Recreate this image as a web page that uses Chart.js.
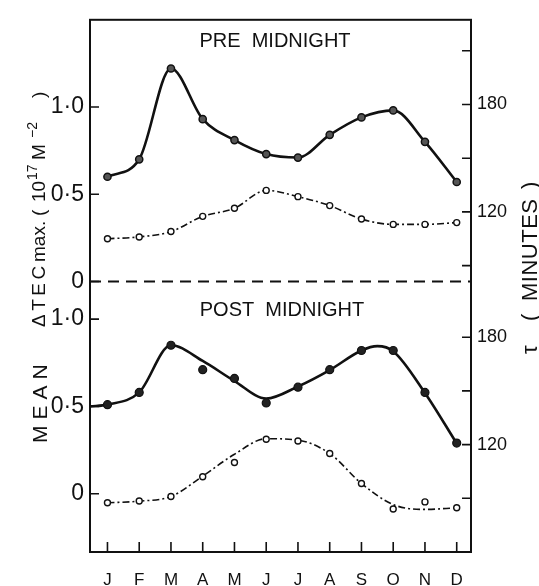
<!DOCTYPE html>
<html lang="en">
<head>
    <meta charset="UTF-8">
    <title>Mean TEC max and tau - pre / post midnight</title>
    <script src="https://cdn.jsdelivr.net/npm/chart.js"></script>
    <style>
        html, body { margin: 0; padding: 0; background: #fff; }
        canvas { display: block; }
    </style>
</head>
<body>
<canvas id="myChart" width="539" height="586"></canvas>
<script>
    // months (x positions are month index 0..11)
    var months = ['J', 'F', 'M', 'A', 'M', 'J', 'J', 'A', 'S', 'O', 'N', 'D'];
    var monthPos = [0, 1, 2, 3, 4, 5, 6, 7, 8, 9, 10, 11];

    // PRE MIDNIGHT: mean dTEC max (10^17 m^-2) and tau (minutes)
    var preTec = [0.60, 0.70, 1.22, 0.93, 0.81, 0.73, 0.71, 0.84, 0.94, 0.98, 0.80, 0.57];
    var preTau = [105, 106, 109, 117.5, 122, 132, 128.5, 123.5, 116, 113, 113, 114];

    // POST MIDNIGHT: measured points
    var postTec = [0.51, 0.58, 0.85, 0.71, 0.66, 0.52, 0.61, 0.71, 0.82, 0.82, 0.58, 0.29];
    var postTau = [87.5, 88.5, 91, 102, 110, 123, 122, 115, 98.3, 84, 88, 84.7];

    // POST MIDNIGHT: smooth curves as drawn through the points
    var postTecCurveX = [-0.55, 0, 1, 2, 3, 4, 5, 6, 7, 8, 8.5, 9, 10, 11];
    var postTecCurve = [0.50, 0.51, 0.58, 0.85, 0.76, 0.645, 0.545, 0.614, 0.708, 0.82, 0.845, 0.816, 0.577, 0.288];
    var postTauCurveX = [0, 1, 2, 3, 4, 5, 6, 7, 8, 9, 10, 11];
    var postTauCurve = [87.5, 88.4, 91, 102.4, 114.6, 123.3, 122.5, 115, 98.3, 86.5, 83.8, 84.7];

    // tick labels
    var tecTicks = [0, 0.5, 1.0];
    var tecTickLabels = ['0', '0\u00b75', '1\u00b70'];
    var tauTicksPre = [90, 120, 150, 180, 210];
    var tauTicksPost = [90, 120, 150, 180];
    var tauLabelled = [120, 180];

    // the upper panel sits on top of the lower one on the same axes
    var PRE_TEC_SHIFT = 1.215;
    var PRE_TAU_SHIFT = 130;

    var ink = '#111';
    var fontFamily = '"Liberation Sans", Arial, sans-serif';

    function pts(xs, ys, shift) {
        return ys.map(function(v, i) { return { x: xs[i], y: v + shift }; });
    }

    function upText(ctx, txt, x, yStart, size, spacing) {
        ctx.save();
        ctx.translate(x, yStart);
        ctx.rotate(-Math.PI / 2);
        ctx.font = size + 'px ' + fontFamily;
        ctx.letterSpacing = (spacing || 0) + 'px';
        ctx.textAlign = 'left';
        ctx.textBaseline = 'alphabetic';
        ctx.fillText(txt, 0, 0);
        ctx.restore();
    }

    var decor = {
        id: 'decor',
        afterDraw: function(chart) {
            var ctx = chart.ctx, a = chart.chartArea;
            var sx = chart.scales.x, yl = chart.scales.yL, yr = chart.scales.yR;
            ctx.save();
            ctx.strokeStyle = ink;
            ctx.lineWidth = 2;
            ctx.strokeRect(a.left, a.top, a.right - a.left, a.bottom - a.top);

            // inward tick marks
            ctx.lineWidth = 1.6;
            ctx.beginPath();
            sx.ticks.forEach(function(t) {
                var p = sx.getPixelForValue(t.value);
                ctx.moveTo(p, a.bottom); ctx.lineTo(p, a.bottom - 10);
            });
            yl.ticks.forEach(function(t) {
                var p = yl.getPixelForValue(t.value);
                ctx.moveTo(a.left, p); ctx.lineTo(a.left + 9, p);
            });
            yr.ticks.forEach(function(t) {
                var p = yr.getPixelForValue(t.value);
                ctx.moveTo(a.right, p); ctx.lineTo(a.right - 9, p);
            });
            ctx.stroke();

            // panel titles
            ctx.fillStyle = ink;
            ctx.font = '20px ' + fontFamily;
            ctx.textAlign = 'center';
            ctx.textBaseline = 'middle';
            ctx.fillText('PRE  MIDNIGHT', a.left + 185, a.top + 22);
            ctx.fillText('POST  MIDNIGHT', a.left + 192, a.top + 291);
            ctx.restore();

            // left axis title, reading upwards
            ctx.save();
            ctx.fillStyle = ink;
            upText(ctx, 'MEAN', 47, 443, 21, 6);
            upText(ctx, '\u0394TEC', 45, 327, 19, 3.5);
            upText(ctx, 'max.', 45, 262, 19, 0);
            upText(ctx, '(', 45, 216, 19, 0);
            upText(ctx, '10', 45, 202, 19, 0);
            upText(ctx, '17', 37, 180, 14, 0);
            upText(ctx, 'M', 45, 160, 19, 0);
            upText(ctx, '\u22122', 37, 138, 14, 0);
            upText(ctx, ')', 45, 98, 19, 0);

            // right axis title
            upText(ctx, '\u03c4', 537, 354, 22, 0);
            upText(ctx, '(', 537, 321, 22, 0);
            upText(ctx, 'MINUTES', 537, 301, 22, 0.5);
            upText(ctx, ')', 537, 189, 22, 0);
            ctx.restore();
        }
    };

    var dashDot = [7, 3, 2, 3];

    window.onload = function() {
        var ctx = document.getElementById('myChart').getContext('2d');
        new Chart(ctx, {
            type: 'line',
            data: {
                datasets: [
                    {
                        label: 'pre dTEC',
                        data: pts(monthPos, preTec, PRE_TEC_SHIFT),
                        yAxisID: 'yL',
                        borderColor: ink, borderWidth: 2.6,
                        cubicInterpolationMode: 'monotone',
                        pointRadius: 3.6, pointBackgroundColor: '#555',
                        pointBorderColor: ink, pointBorderWidth: 1.5
                    },
                    {
                        label: 'pre tau',
                        data: pts(monthPos, preTau, PRE_TAU_SHIFT),
                        yAxisID: 'yR',
                        borderColor: ink, borderWidth: 1.6, borderDash: dashDot,
                        cubicInterpolationMode: 'monotone',
                        pointRadius: 3, pointBackgroundColor: '#fff',
                        pointBorderColor: ink, pointBorderWidth: 1.4
                    },
                    {
                        label: 'post dTEC points',
                        data: pts(monthPos, postTec, 0),
                        yAxisID: 'yL', showLine: false,
                        pointRadius: 4, pointBackgroundColor: '#222',
                        pointBorderColor: ink, pointBorderWidth: 1.2
                    },
                    {
                        label: 'post tau points',
                        data: pts(monthPos, postTau, 0),
                        yAxisID: 'yR', showLine: false,
                        pointRadius: 3, pointBackgroundColor: '#fff',
                        pointBorderColor: ink, pointBorderWidth: 1.4
                    },
                    {
                        label: 'post dTEC curve',
                        data: pts(postTecCurveX, postTecCurve, 0),
                        yAxisID: 'yL',
                        borderColor: ink, borderWidth: 2.6,
                        cubicInterpolationMode: 'monotone', pointRadius: 0
                    },
                    {
                        label: 'post tau curve',
                        data: pts(postTauCurveX, postTauCurve, 0),
                        yAxisID: 'yR',
                        borderColor: ink, borderWidth: 1.6, borderDash: dashDot,
                        cubicInterpolationMode: 'monotone', pointRadius: 0
                    },
                    {
                        label: 'divider',
                        data: [{ x: -0.55, y: PRE_TEC_SHIFT }, { x: 11.45, y: PRE_TEC_SHIFT }],
                        yAxisID: 'yL',
                        borderColor: ink, borderWidth: 2, borderDash: [11, 7],
                        pointRadius: 0
                    }
                ]
            },
            options: {
                responsive: false,
                animation: false,
                devicePixelRatio: 1,
                layout: { padding: { top: 14 } },
                plugins: { legend: { display: false }, tooltip: { enabled: false } },
                scales: {
                    x: {
                        type: 'linear', position: 'bottom',
                        min: -0.55, max: 11.45,
                        afterBuildTicks: function(s) {
                            s.ticks = monthPos.map(function(v) { return { value: v }; });
                        },
                        afterFit: function(s) { s.height = 34; },
                        grid: { display: false, drawTicks: false },
                        border: { display: false },
                        ticks: {
                            autoSkip: false, maxRotation: 0, padding: 18,
                            color: ink, font: { family: fontFamily, size: 17 },
                            callback: function(v, i) { return months[i]; }
                        }
                    },
                    yL: {
                        type: 'linear', position: 'left',
                        min: -0.334, max: 2.714,
                        afterBuildTicks: function(s) {
                            var t = [];
                            tecTicks.forEach(function(v) { t.push({ value: v }); });
                            tecTicks.forEach(function(v) { t.push({ value: v + PRE_TEC_SHIFT }); });
                            s.ticks = t;
                        },
                        afterFit: function(s) { s.width = 90; },
                        grid: { display: false, drawTicks: false },
                        border: { display: false },
                        ticks: {
                            padding: 6, color: ink,
                            font: { family: fontFamily, size: 23 },
                            callback: function(v, i) { return tecTickLabels[i % 3]; }
                        }
                    },
                    yR: {
                        type: 'linear', position: 'right',
                        min: 60, max: 357.3,
                        afterBuildTicks: function(s) {
                            var t = [];
                            tauTicksPost.forEach(function(v) { t.push({ value: v }); });
                            tauTicksPre.forEach(function(v) { t.push({ value: v + PRE_TAU_SHIFT }); });
                            s.ticks = t;
                        },
                        afterFit: function(s) { s.width = 68; },
                        grid: { display: false, drawTicks: false },
                        border: { display: false },
                        ticks: {
                            padding: 6, color: ink,
                            font: { family: fontFamily, size: 18 },
                            callback: function(v) {
                                var real = v > 200 ? v - PRE_TAU_SHIFT : v;
                                return tauLabelled.indexOf(real) >= 0 ? String(real) : '';
                            }
                        }
                    }
                }
            },
            plugins: [decor]
        });
    };
</script>
</body>
</html>
